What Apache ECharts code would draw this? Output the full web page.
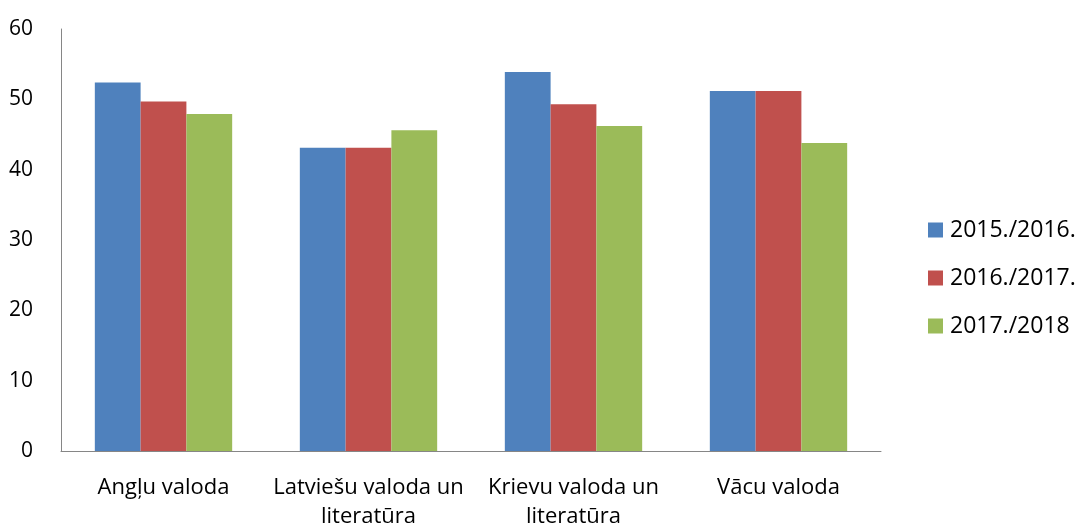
<!DOCTYPE html>
<html><head><meta charset="utf-8">
<script src="https://cdn.jsdelivr.net/npm/echarts@6/dist/echarts.min.js"></script>
<style>html,body{margin:0;padding:0;background:#fff}#c{width:1078px;height:525px}</style>
</head><body><div id="c"></div>
<script>
const categories = ["Angļu valoda", "Latviešu valoda un\nliteratūra", "Krievu valoda un\nliteratūra", "Vācu valoda"];
const seriesNames = ["2015./2016.", "2016./2017.", "2017./2018"];
const s2015 = [52.4, 43.1, 53.9, 51.2];
const s2016 = [49.7, 43.1, 49.3, 51.2];
const s2017 = [47.9, 45.6, 46.2, 43.8];
const yTicks = [0, 10, 20, 30, 40, 50, 60];
const colors = ["#4F81BD", "#C0504D", "#9BBB59"];
const font = "Open Sans";
const chart = echarts.init(document.getElementById('c'));
chart.setOption({
  animation: false,
  textStyle: {fontFamily: font},
  grid: {left: 61, right: 197, top: 29, bottom: 74, containLabel: false, outerBoundsMode: 'none'},
  legend: {
    orient: 'vertical', left: 923, top: 213, itemWidth: 15, itemHeight: 15, itemGap: 24,
    icon: 'rect',
    textStyle: {fontFamily: font, fontSize: 23, lineHeight: 24, color: '#000', padding: [0,0,0,2]},
    data: seriesNames
  },
  xAxis: {
    type: 'category', data: categories,
    axisLine: {lineStyle: {color: '#868686', width: 1}},
    axisTick: {show: false},
    axisLabel: {fontFamily: font, fontSize: 22, color: '#000', margin: 22, lineHeight: 29, interval: 0}
  },
  yAxis: {
    type: 'value', min: yTicks[0], max: yTicks[yTicks.length-1], interval: 10,
    axisLine: {show: true, lineStyle: {color: '#868686', width: 1}},
    axisTick: {show: false},
    splitLine: {show: false},
    axisLabel: {fontFamily: font, fontSize: 21, color: '#000', margin: 28}
  },
  series: [s2015, s2016, s2017].map((d, i) => ({
    name: seriesNames[i], type: 'bar', data: d, barGap: '0%', barCategoryGap: '33%',
    itemStyle: {color: colors[i]}
  }))
});
</script></body></html>
